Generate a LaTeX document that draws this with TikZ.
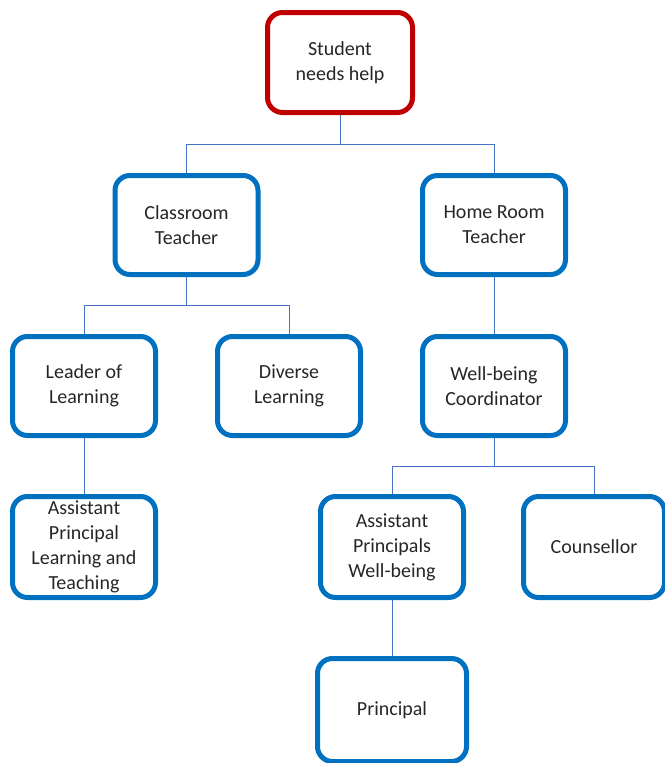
\documentclass[tikz,border=0pt]{standalone}
\usepackage{fontspec}
\setmainfont{Carlito}
\usetikzlibrary{positioning}
\definecolor{boxblue}{HTML}{0070C0}
\definecolor{boxred}{HTML}{C00000}
\definecolor{linkblue}{HTML}{4472C4}

\begin{document}
\begin{tikzpicture}[x=1pt, y=1pt, node distance={57pt},
  main/.style = {draw=boxblue, line width=5pt, rounded corners=15pt, minimum width=143pt, minimum height=99pt, align=center, text=black!85, font=\fontsize{20}{25}\selectfont},
  link/.style = {draw=linkblue, line width=1pt}]
\useasboundingbox (0,0) rectangle (664,-763);
\node[main, draw=boxred, minimum width=145pt, minimum height=100pt] (student) at (340,-62.5) {Student\\needs help};
\node[main] (classroom) [below=58pt of student, xshift=-153.5pt] {Classroom\\Teacher};
\node[main] (homeroom) [below=58pt of student, xshift=154pt] {Home Room\\Teacher};
\node[main] (leader) [below=of classroom, xshift=-102.5pt] {Leader of\\Learning};
\node[main] (diverse) [below=of classroom, xshift=102.5pt] {Diverse\\Learning};
\node[main] (wellbeing) [below=of homeroom] {Well-being\\Coordinator};
\node[main] (apl) [below=56pt of leader, minimum height=101pt] {Assistant\\Principal\\Learning and\\Teaching};
\node[main] (apw) [below=56pt of wellbeing, xshift=-102pt, minimum height=101pt] {Assistant\\Principals\\Well-being};
\node[main] (counsellor) [below=56pt of wellbeing, xshift=100pt, minimum height=101pt, minimum width=141pt] {Counsellor};
\node[main] (principal) [below=56pt of apw, minimum width=149pt, minimum height=103pt] {Principal};

\draw[link] (student.south) -- ++(0,-29) -| (classroom.north);
\draw[link] (student.south) -- ++(0,-29) -| (homeroom.north);
\draw[link] (classroom.south) -- ++(0,-28.5) -| (leader.north);
\draw[link] (classroom.south) -- ++(0,-28.5) -| (diverse.north);
\draw[link] (homeroom.south) -- (wellbeing.north);
\draw[link] (leader.south) -- (apl.north);
\draw[link] (wellbeing.south) -- ++(0,-28) -| (apw.north);
\draw[link] (wellbeing.south) -- ++(0,-28) -| (counsellor.north);
\draw[link] (apw.south) -- (principal.north);
\end{tikzpicture}
\end{document}
